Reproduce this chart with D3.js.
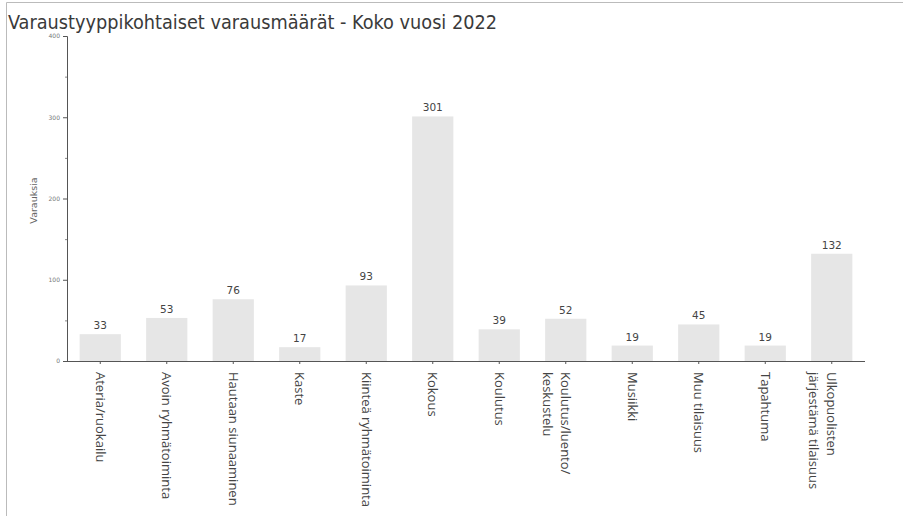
<!DOCTYPE html>
<html>
<head>
<meta charset="utf-8">
<script src="https://cdn.jsdelivr.net/npm/d3@7"></script>
<style>
  html, body { margin: 0; padding: 0; background: #fff; }
  svg { display: block; }
</style>
</head>
<body>
<svg id="chart" width="903" height="516"></svg>
<script>
const categories = [
  ["Ateria/ruokailu"],
  ["Avoin ryhmätoiminta"],
  ["Hautaan siunaaminen"],
  ["Kaste"],
  ["Kiinteä ryhmätoiminta"],
  ["Kokous"],
  ["Koulutus"],
  ["Koulutus/luento/", "keskustelu"],
  ["Musiikki"],
  ["Muu tilaisuus"],
  ["Tapahtuma"],
  ["Ulkopuolisten", "järjestämä tilaisuus"]
];
const values = [33, 53, 76, 17, 93, 301, 39, 52, 19, 45, 19, 132];
const yTicks = [0, 100, 200, 300, 400];
const yMinorTicks = [50, 150, 250, 350];
const title = "Varaustyyppikohtaiset varausmäärät - Koko vuosi 2022";
const yTitle = "Varauksia";

const svg = d3.select("#chart");
const W = 903, H = 516;
const m = { left: 67, right: 38, top: 36, bottom: 155 };

// frame lines (top and left)
svg.append("line").attr("x1", 6.5).attr("x2", W).attr("y1", 2.5).attr("y2", 2.5)
  .attr("stroke", "#bbb").attr("stroke-width", 1);
svg.append("line").attr("x1", 6.5).attr("x2", 6.5).attr("y1", 2.5).attr("y2", H)
  .attr("stroke", "#bbb").attr("stroke-width", 1);

// title
svg.append("text")
  .attr("x", 8).attr("y", 29)
  .attr("font-family", "'DejaVu Sans Condensed', 'DejaVu Sans', sans-serif")
  .attr("font-size", 20)
  .attr("fill", "#3a3a3a")
  .attr("textLength", 489)
  .attr("lengthAdjust", "spacingAndGlyphs")
  .text(title);

const x = d3.scaleBand()
  .domain(categories.map((d, i) => i))
  .range([m.left, W - m.right])
  .paddingInner(0.38)
  .paddingOuter(0.19);

const y = d3.scaleLinear().domain([0, 400]).range([H - m.bottom, m.top]);

// bars
svg.append("g").selectAll("rect")
  .data(values)
  .join("rect")
  .attr("x", (d, i) => x(i))
  .attr("y", d => y(d))
  .attr("width", x.bandwidth())
  .attr("height", d => y(0) - y(d))
  .attr("fill", "#e6e6e6");

// value labels
svg.append("g").selectAll("text")
  .data(values)
  .join("text")
  .attr("x", (d, i) => x(i) + x.bandwidth() / 2)
  .attr("y", d => y(d) - 5)
  .attr("text-anchor", "middle")
  .attr("font-family", "'DejaVu Sans', sans-serif")
  .attr("font-size", 10.5)
  .attr("fill", "#444")
  .text(d => d);

// y axis
const yAxis = d3.axisLeft(y).tickValues(yTicks).tickSize(4).tickPadding(3);
const gy = svg.append("g").attr("transform", `translate(${m.left},0)`).call(yAxis);
gy.select(".domain").attr("stroke", "#555");
gy.selectAll(".tick line").attr("stroke", "#555");
gy.selectAll(".tick text")
  .attr("font-family", "'DejaVu Sans', sans-serif")
  .attr("font-size", 6)
  .attr("fill", "#777");
const yMinor = d3.axisLeft(y).tickValues(yMinorTicks).tickSize(2).tickFormat("");
const gym = svg.append("g").attr("transform", `translate(${m.left},0)`).call(yMinor);
gym.select(".domain").remove();
gym.selectAll(".tick line").attr("stroke", "#888");

// y title
svg.append("text")
  .attr("transform", `translate(37,${(y(0) + y(400)) / 2 + 2}) rotate(-90)`)
  .attr("text-anchor", "middle")
  .attr("font-family", "'DejaVu Sans', sans-serif")
  .attr("font-size", 9.5)
  .attr("fill", "#666")
  .text(yTitle);

// x axis
const xAxis = d3.axisBottom(x).tickSize(3).tickFormat("");
const gx = svg.append("g").attr("transform", `translate(0,${y(0)})`).call(xAxis);
gx.select(".domain").attr("stroke", "#555").attr("d", `M${m.left},0.5H${W - m.right}`);
gx.selectAll(".tick line").attr("stroke", "#555");

// x labels (rotated 90deg)
const xl = svg.append("g").selectAll("text")
  .data(categories)
  .join("text")
  .attr("transform", (d, i) => {
    const cx = x(i) + x.bandwidth() / 2;
    const shift = (d.length - 1) * 0; // first line centred on band
    return `translate(${cx + shift},${y(0) + 11}) rotate(90)`;
  })
  .attr("font-family", "'Open Sans', sans-serif")
  .attr("font-size", 13)
  .attr("fill", "#444")
  .attr("text-anchor", "start");
xl.each(function(d) {
  const t = d3.select(this);
  d.forEach((line, k) => {
    t.append("tspan")
      .attr("x", 0)
      .attr("dy", k === 0 ? "0.35em" : "1.4em")
      .text(line);
  });
});
</script>
</body>
</html>
